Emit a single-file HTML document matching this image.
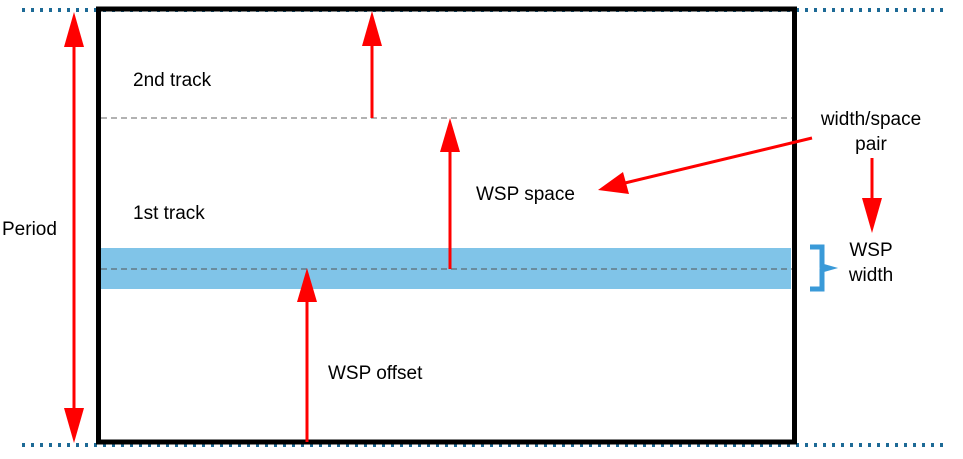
<!DOCTYPE html>
<html><head><style>body{margin:0;background:#fff}svg{display:block}</style></head><body>
<svg width="963" height="459" xmlns="http://www.w3.org/2000/svg" font-family="Liberation Sans, sans-serif" font-size="19">
<rect x="101" y="248" width="690" height="41" fill="#80c4e8"/>
<line x1="22" y1="10" x2="945" y2="10" stroke="#1d6a96" stroke-width="4" stroke-dasharray="3,6"/>
<line x1="22" y1="445" x2="945" y2="445" stroke="#1d6a96" stroke-width="4" stroke-dasharray="3,6"/>
<rect x="98.5" y="9" width="696" height="433" fill="none" stroke="#000" stroke-width="5"/>
<line x1="101" y1="118" x2="792" y2="118" stroke="#666" stroke-width="1" stroke-dasharray="6,4"/>
<line x1="101" y1="269" x2="792" y2="269" stroke="#555" stroke-width="1" stroke-dasharray="6,4"/>
<g fill="#f00" stroke="#f00" stroke-width="3">
<line x1="74" y1="40" x2="74" y2="415"/>
<polygon points="74,12 64,47 84,47" stroke="none"/>
<polygon points="74,443 64,408 84,408" stroke="none"/>
<line x1="372" y1="40" x2="372" y2="118"/>
<polygon points="372,11 362,46 382,46" stroke="none"/>
<line x1="450" y1="140" x2="450" y2="269"/>
<polygon points="450,118 440,152 460,152" stroke="none"/>
<line x1="307" y1="295" x2="307" y2="442"/>
<polygon points="307,268 297,302 317,302" stroke="none"/>
<line x1="812" y1="138" x2="625" y2="183"/>
<polygon points="598,190 623,172 629,194" stroke="none"/>
<line x1="872" y1="158" x2="872" y2="205"/>
<polygon points="872,233 862,198 882,198" stroke="none"/>
</g>
<path d="M810,247 H822 V266 L829,268 L822,270 V289 H810" fill="none" stroke="#3a9ad8" stroke-width="5"/>
<text x="133" y="86">2nd track</text>
<text x="133" y="219">1st track</text>
<text x="2" y="235">Period</text>
<text x="476" y="200">WSP space</text>
<text x="328" y="379">WSP offset</text>
<text x="871" y="125" text-anchor="middle">width/space</text>
<text x="871" y="150" text-anchor="middle">pair</text>
<text x="871" y="256" text-anchor="middle">WSP</text>
<text x="871" y="281" text-anchor="middle">width</text>
</svg>
</body></html>
